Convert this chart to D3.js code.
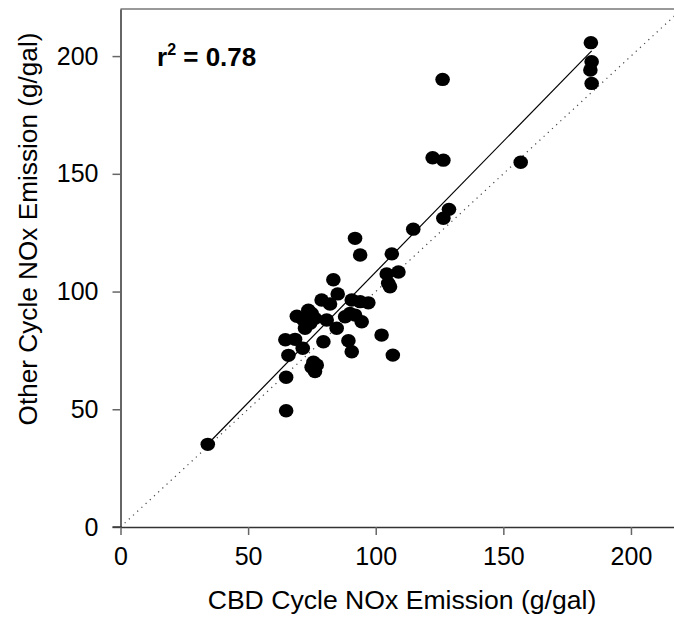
<!DOCTYPE html>
<html>
<head>
<meta charset="utf-8">
<script src="https://cdn.jsdelivr.net/npm/d3@7"></script>
<style>
  html, body { margin: 0; padding: 0; background: #fff; }
  svg { display: block; }
  text { font-family: Arial, "Liberation Sans", Helvetica, sans-serif; fill: #000; }
</style>
</head>
<body>
<svg id="chart" width="674" height="618"></svg>
<script>
// ---- data ----
const cbdNOx = [34.2, 64.9, 64.9, 65.8, 64.6, 68.4, 71.4, 75.6, 76.9, 74.9, 76.2, 79.5,
  69.1, 73.6, 74.9, 71.7, 74.3, 72.3, 76.2, 73.0, 80.8, 84.7, 88.0, 89.9, 91.9, 94.5,
  89.3, 90.6, 102.3, 106.7, 78.8, 82.1, 90.6, 93.9, 97.1, 83.4, 85.1, 91.9, 93.9, 106.3,
  104.3, 108.9, 104.9, 105.6, 114.7, 126.5, 128.7, 122.3, 126.5, 156.8, 126.2,
  184.3, 184.6, 184.1, 184.6];
const otherNOx = [35.1, 49.4, 63.6, 72.9, 79.5, 79.7, 75.9, 70.0, 68.8, 67.8, 66.0, 78.7,
  89.5, 92.1, 90.7, 87.9, 86.5, 84.4, 88.6, 89.0, 87.9, 84.4, 89.3, 90.7, 90.0, 87.2,
  79.1, 74.4, 81.5, 73.0, 96.4, 94.7, 96.4, 95.7, 95.2, 105.0, 99.0, 122.6, 115.5, 116.0,
  107.5, 108.3, 103.5, 102.0, 126.5, 131.1, 134.9, 156.8, 155.8, 154.9, 190.1,
  205.7, 197.6, 194.1, 188.4];
const fitSlope = 1.11;
const fitIntercept = -2.7;
const rSquared = "0.78";
const xTicks = [0, 50, 100, 150, 200];
const yTicks = [0, 50, 100, 150, 200];
const xDomain = [0, 220];
const yDomain = [0, 220];
const xTitle = "CBD Cycle NOx Emission (g/gal)";
const yTitle = "Other Cycle NOx Emission (g/gal)";

// ---- layout ----
const svg = d3.select("#chart");
const mLeft = 120.5, mRight = 682, mTop = 9, mBottom = 527;
const x = d3.scaleLinear().domain(xDomain).range([mLeft, mRight]);
const y = d3.scaleLinear().domain(yDomain).range([mBottom, mTop]);

// top border
svg.append("line").attr("x1", mLeft).attr("x2", mRight).attr("y1", mTop).attr("y2", mTop)
  .attr("stroke", "#777").attr("stroke-width", 1.5);

// 1:1 dotted line
svg.append("line")
  .attr("x1", x(0)).attr("y1", y(0)).attr("x2", x(220)).attr("y2", y(220))
  .attr("stroke", "#444").attr("stroke-width", 1.2).attr("stroke-dasharray", "1.2,4.5");

// regression line
const xMin = d3.min(cbdNOx), xMax = d3.max(cbdNOx);
svg.append("line")
  .attr("x1", x(xMin)).attr("y1", y(fitSlope * xMin + fitIntercept))
  .attr("x2", x(xMax)).attr("y2", y(fitSlope * xMax + fitIntercept))
  .attr("stroke", "#000").attr("stroke-width", 1.2);

// points
svg.append("g").selectAll("ellipse").data(cbdNOx).join("ellipse")
  .attr("cx", (d) => x(d))
  .attr("cy", (d, i) => y(otherNOx[i]))
  .attr("rx", 7.3).attr("ry", 6.7)
  .attr("fill", "#000");

// axes
const xAxis = svg.append("g").attr("transform", `translate(0,${mBottom})`)
  .call(d3.axisBottom(x).tickValues(xTicks).tickSize(8).tickPadding(12).tickSizeOuter(0));
const yAxis = svg.append("g").attr("transform", `translate(${mLeft},0)`)
  .call(d3.axisLeft(y).tickValues(yTicks).tickSize(8).tickPadding(14).tickSizeOuter(0));
[xAxis, yAxis].forEach(g => {
  g.select(".domain").attr("stroke", "#333").attr("stroke-width", 1.5);
  g.selectAll(".tick line").attr("stroke", "#666").attr("stroke-width", 1.5);
  g.selectAll(".tick text").style("font-size", "25px")
    .style("font-family", "Arial, 'Liberation Sans', Helvetica, sans-serif").attr("fill", "#000");
});
// extend x-axis line left across y tick zone
svg.append("line").attr("x1", mLeft - 8).attr("x2", mLeft).attr("y1", mBottom).attr("y2", mBottom)
  .attr("stroke", "#333").attr("stroke-width", 1.5);

// axis titles
svg.append("text").attr("x", 402).attr("y", 609)
  .attr("text-anchor", "middle").style("font-size", "26.6px").text(xTitle);
svg.append("text")
  .attr("transform", `translate(37,229) rotate(-90)`)
  .attr("text-anchor", "middle").style("font-size", "26.2px").text(yTitle);

// r^2 annotation
const ann = svg.append("text").attr("x", 157).attr("y", 66)
  .style("font-size", "26px").style("font-weight", "bold");
ann.append("tspan").text("r");
ann.append("tspan").attr("dy", -11).style("font-size", "16px").text("2");
ann.append("tspan").attr("dy", 11).text(" = " + rSquared);
</script>
</body>
</html>
